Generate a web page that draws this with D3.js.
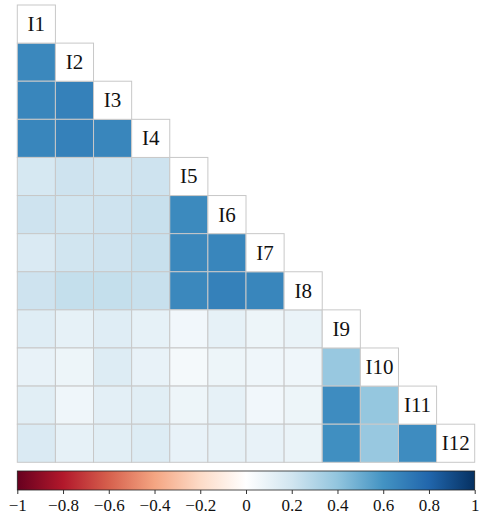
<!DOCTYPE html>
<html>
<head>
<meta charset="utf-8">
<script src="https://cdn.jsdelivr.net/npm/d3@7"></script>
<style>
  html, body { margin: 0; padding: 0; background: #fff; }
  svg { display: block; }
  text { font-family: "Liberation Serif", "DejaVu Serif", serif; fill: #111; }
</style>
</head>
<body>
<svg id="chart" width="479" height="521"></svg>
<script>
// Item names, in row/column order
const items = ["I1","I2","I3","I4","I5","I6","I7","I8","I9","I10","I11","I12"];

// Lower-triangle correlations: row i holds r(I_i, I_j) for j < i
const corrRows = [
  [],
  [0.65],
  [0.66, 0.68],
  [0.66, 0.68, 0.66],
  [0.18, 0.21, 0.20, 0.21],
  [0.21, 0.20, 0.21, 0.23, 0.64],
  [0.16, 0.20, 0.21, 0.23, 0.65, 0.66],
  [0.21, 0.24, 0.24, 0.23, 0.65, 0.68, 0.66],
  [0.14, 0.11, 0.14, 0.11, 0.06, 0.11, 0.08, 0.09],
  [0.10, 0.08, 0.15, 0.10, 0.05, 0.08, 0.07, 0.07, 0.38],
  [0.13, 0.07, 0.12, 0.13, 0.08, 0.11, 0.06, 0.08, 0.63, 0.39],
  [0.16, 0.11, 0.13, 0.15, 0.10, 0.11, 0.10, 0.09, 0.62, 0.38, 0.63]
];

// Colour bar ticks
const barTicks = [-1, -0.8, -0.6, -0.4, -0.2, 0, 0.2, 0.4, 0.6, 0.8, 1];

// Diverging red-white-blue palette, evenly spaced over [-1, 1]
const palette = ["#67001F","#B2182B","#D6604D","#F4A582","#FDDBC7","#FFFFFF",
                 "#D1E5F0","#92C5DE","#4393C3","#2166AC","#053061"];

const svg = d3.select("#chart");
const gLeft = 17.3, gRight = 474.7, gTop = 5, gBottom = 462.3;

const x = d3.scaleBand().domain(items).range([gLeft, gRight]);
const y = d3.scaleBand().domain(items).range([gTop, gBottom]);
const fillFor = d3.scaleLinear()
  .domain(d3.range(palette.length).map(i => -1 + 2 * i / (palette.length - 1)))
  .range(palette)
  .interpolate(d3.interpolateRgb);

// Flatten lower triangle into cells
const cells = [];
corrRows.forEach((row, i) => row.forEach((v, j) => cells.push({ r: items[i], c: items[j], v })));

svg.append("g").selectAll("rect")
  .data(cells)
  .join("rect")
  .attr("x", d => x(d.c))
  .attr("y", d => y(d.r))
  .attr("width", x.bandwidth())
  .attr("height", y.bandwidth())
  .attr("fill", d => fillFor(d.v))
  .attr("stroke", "#c8c8c8")
  .attr("stroke-width", 1);

// Diagonal: white cells with item labels
const diag = svg.append("g");
diag.selectAll("rect")
  .data(items)
  .join("rect")
  .attr("x", d => x(d))
  .attr("y", d => y(d))
  .attr("width", x.bandwidth())
  .attr("height", y.bandwidth())
  .attr("fill", "#fff")
  .attr("stroke", "#c8c8c8")
  .attr("stroke-width", 1);
diag.selectAll("text")
  .data(items)
  .join("text")
  .attr("x", d => x(d) + x.bandwidth() / 2)
  .attr("y", d => y(d) + y.bandwidth() / 2)
  .attr("text-anchor", "middle")
  .attr("dominant-baseline", "central")
  .attr("font-size", 21)
  .text(d => d);

// Colour bar
const cb = d3.scaleLinear().domain([-1, 1]).range([gLeft, gRight]);
const cbTop = 471, cbH = 19;
const defs = svg.append("defs");
const grad = defs.append("linearGradient").attr("id", "rdbu");
palette.forEach((c, i) => {
  grad.append("stop")
    .attr("offset", `${100 * i / (palette.length - 1)}%`)
    .attr("stop-color", c);
});
svg.append("rect")
  .attr("x", gLeft).attr("y", cbTop)
  .attr("width", gRight - gLeft).attr("height", cbH)
  .attr("fill", "url(#rdbu)")
  .attr("stroke", "#222").attr("stroke-width", 0.8);

const axis = d3.axisBottom(cb)
  .tickValues(barTicks)
  .tickSize(4)
  .tickFormat(v => v === 0 ? "0" : d3.format("")(v).replace("-", "\u2212"));
const ax = svg.append("g")
  .attr("transform", `translate(0,${cbTop + cbH})`)
  .call(axis);
ax.select(".domain").remove();
ax.selectAll(".tick line").attr("stroke", "#333");
ax.selectAll(".tick text")
  .style("font-family", "'Liberation Serif', 'DejaVu Serif', serif")
  .style("font-size", "17px")
  .style("fill", "#111")
  .attr("dy", "0.85em");
</script>
</body>
</html>
